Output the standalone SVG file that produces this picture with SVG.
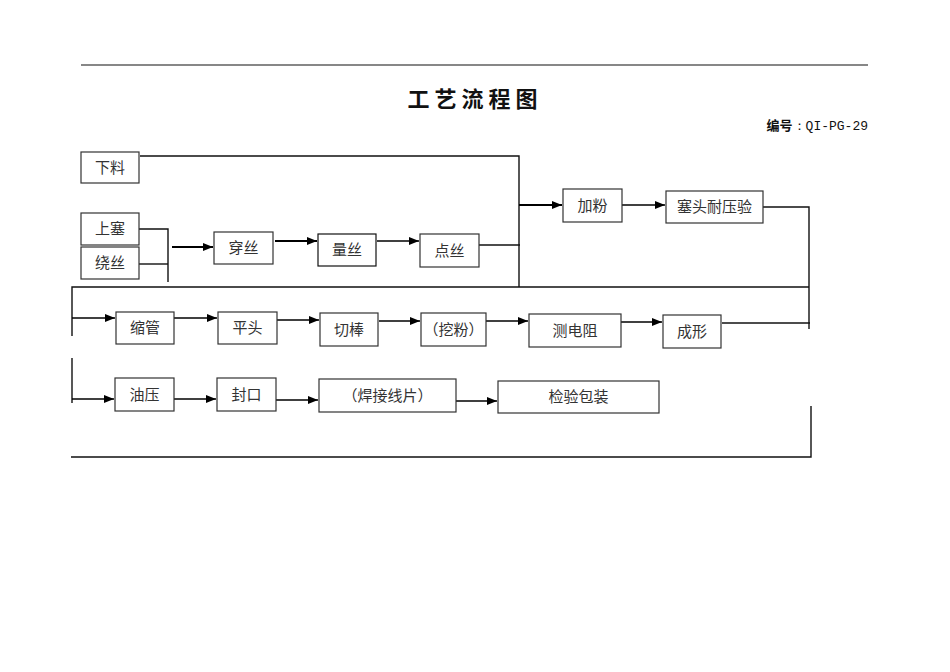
<svg xmlns="http://www.w3.org/2000/svg" width="950" height="672" viewBox="0 0 950 672">
<defs>
<marker id="ah" viewBox="0 0 10 8" refX="10" refY="4" markerWidth="10" markerHeight="8" markerUnits="userSpaceOnUse" orient="auto"><path d="M0,0 L10,4 L0,8 Z" fill="#000"/></marker>
<style>
.box{fill:#fff;stroke:#333;stroke-width:1.2}
.t{font-family:"Noto Sans CJK SC","Noto Sans",sans-serif;font-size:15px;fill:#333;text-anchor:middle}
.ln{fill:none;stroke:#111;stroke-width:1.4}
.ar{fill:none;stroke:#000;stroke-width:1.6;marker-end:url(#ah)}
.arb{fill:none;stroke:#000;stroke-width:2.2;marker-end:url(#ah)}
</style>
</defs>
<rect width="950" height="672" fill="#fff"/>
<line x1="81" y1="65" x2="868" y2="65" stroke="#111" stroke-width="1.2"/>
<text x="475" y="107" font-family="Noto Sans CJK SC,sans-serif" font-size="22" font-weight="bold" letter-spacing="5" text-anchor="middle" fill="#111">工艺流程图</text>
<text x="868" y="130" text-anchor="end" fill="#111"><tspan font-family="Noto Sans CJK SC,sans-serif" font-size="13" font-weight="bold">编号</tspan><tspan font-family="Liberation Mono,monospace" font-size="13">：QI-PG-29</tspan></text>

<g id="connectors">
<polyline class="ln" points="140,156 519,156 519,287"/>
<polyline class="ln" points="139,229 168,229 168,282"/>
<line class="ln" x1="139" y1="264" x2="168" y2="264"/>
<line class="arb" x1="172" y1="247" x2="213" y2="247"/>
<line class="arb" x1="275" y1="241" x2="317" y2="241"/>
<line class="ar" x1="377" y1="241" x2="419" y2="241"/>
<line class="ln" x1="479" y1="245" x2="520" y2="245"/>
<line class="arb" x1="519" y1="205" x2="562" y2="205"/>
<line class="ar" x1="622" y1="205" x2="665" y2="205"/>
<polyline class="ln" points="763,207 809,207 809,329"/>
<polyline class="ln" points="72,336 72,287 809,287"/>
<line class="ar" x1="72" y1="318" x2="115" y2="318"/>
<line class="ar" x1="174" y1="318" x2="217" y2="318"/>
<line class="ar" x1="277" y1="320" x2="319" y2="320"/>
<line class="ar" x1="379" y1="321" x2="420" y2="321"/>
<line class="ar" x1="486" y1="321" x2="528" y2="321"/>
<line class="ar" x1="621" y1="322" x2="662" y2="322"/>
<line class="ln" x1="722" y1="323" x2="810" y2="323"/>
<line class="ln" x1="72" y1="358" x2="72" y2="403"/>
<line class="ar" x1="72" y1="399" x2="114" y2="399"/>
<line class="ar" x1="174" y1="399" x2="216" y2="399"/>
<line class="ar" x1="276" y1="400" x2="318" y2="400"/>
<line class="ar" x1="456" y1="401" x2="497" y2="401"/>
<polyline class="ln" points="71,457 811,457 811,406"/>
</g>

<g id="n-xialiao"><rect class="box" x="81" y="152" width="58" height="31"/><text class="t" x="110" y="173">下料</text></g>
<g id="n-shangsai"><rect class="box" x="81" y="213" width="58" height="32"/><text class="t" x="110" y="234">上塞</text></g>
<g id="n-raosi"><rect class="box" x="81" y="247" width="58" height="32"/><text class="t" x="110" y="268">绕丝</text></g>
<g id="n-chuansi"><rect class="box" x="214" y="232" width="59" height="32"/><text class="t" x="243.5" y="253">穿丝</text></g>
<g id="n-liangsi"><rect class="box" x="318" y="234" width="58" height="32" stroke-width="1.6" style="stroke:#111"/><text class="t" x="347" y="255">量丝</text></g>
<g id="n-diansi"><rect class="box" x="420" y="234" width="59" height="33"/><text class="t" x="449.5" y="256">点丝</text></g>
<g id="n-jiafen"><rect class="box" x="563" y="189" width="59" height="33"/><text class="t" x="592.5" y="211">加粉</text></g>
<g id="n-saitou"><rect class="box" x="666" y="191" width="97" height="32"/><text class="t" x="714.5" y="212">塞头耐压验</text></g>
<g id="n-suoguan"><rect class="box" x="116" y="312" width="58" height="32"/><text class="t" x="145" y="333">缩管</text></g>
<g id="n-pingtou"><rect class="box" x="218" y="312" width="59" height="32"/><text class="t" x="247.5" y="333">平头</text></g>
<g id="n-qiebang"><rect class="box" x="320" y="313" width="58" height="33"/><text class="t" x="349" y="335">切棒</text></g>
<g id="n-wafen"><rect class="box" x="421" y="313" width="65" height="33"/><text class="t" x="453.5" y="335">（挖粉）</text></g>
<g id="n-cedianzu"><rect class="box" x="529" y="314" width="92" height="33"/><text class="t" x="575" y="336">测电阻</text></g>
<g id="n-chengxing"><rect class="box" x="663" y="315" width="58" height="33"/><text class="t" x="692" y="337">成形</text></g>
<g id="n-youya"><rect class="box" x="115" y="378" width="59" height="33"/><text class="t" x="144.5" y="400">油压</text></g>
<g id="n-fengkou"><rect class="box" x="217" y="378" width="59" height="33"/><text class="t" x="246.5" y="400">封口</text></g>
<g id="n-hanjie"><rect class="box" x="319" y="379" width="137" height="33"/><text class="t" x="387.5" y="401">（焊接线片）</text></g>
<g id="n-jianyan"><rect class="box" x="498" y="381" width="161" height="32"/><text class="t" x="578.5" y="402">检验包装</text></g>
</svg>
